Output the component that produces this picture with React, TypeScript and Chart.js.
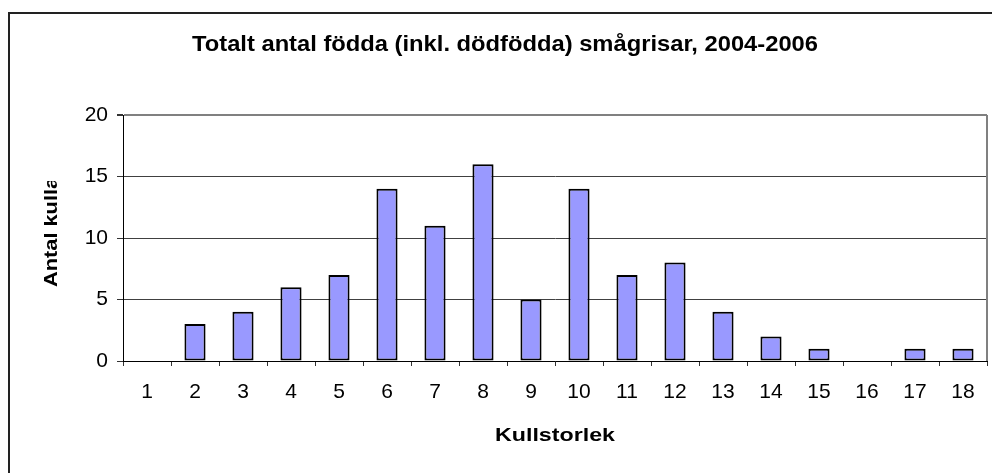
import React, { useEffect, useRef } from "react";
import { Chart, registerables } from "chart.js";

Chart.register(...registerables);

const CHART_TITLE = "Totalt antal födda (inkl. dödfödda) smågrisar, 2004-2006";
const X_TITLE = "Kullstorlek";
const Y_TITLE = "Antal kullar";
const categories = ["1", "2", "3", "4", "5", "6", "7", "8", "9", "10", "11", "12", "13", "14", "15", "16", "17", "18"];
const litterCounts = [0, 3, 4, 6, 7, 14, 11, 16, 5, 14, 7, 8, 4, 2, 1, 0, 1, 1];
const yTicks = [0, 5, 10, 15, 20];

const FONT = "'Liberation Sans', Arial, sans-serif";

function drawStretched(
  ctx: CanvasRenderingContext2D,
  text: string,
  x: number,
  y: number,
  font: string,
  targetWidth: number,
  align: CanvasTextAlign
) {
  ctx.save();
  ctx.font = font;
  const w = ctx.measureText(text).width;
  const s = targetWidth / w;
  ctx.translate(x, y);
  ctx.scale(s, 1);
  ctx.textAlign = align;
  ctx.textBaseline = "alphabetic";
  ctx.fillStyle = "#000";
  ctx.fillText(text, 0, 0);
  ctx.restore();
}

const decorPlugin = {
  id: "decor",
  afterDraw(chart: any) {
    const ctx: CanvasRenderingContext2D = chart.ctx;
    const { right, top, bottom, left } = chart.chartArea;
    ctx.save();
    // plot area right border
    ctx.strokeStyle = "#808080";
    ctx.lineWidth = 2;
    ctx.beginPath();
    ctx.moveTo(right, top);
    ctx.lineTo(right, bottom);
    ctx.stroke();
    // outer chart frame
    ctx.strokeStyle = "#222";
    ctx.lineWidth = 2;
    ctx.strokeRect(9, 13, 1200, 1000);
    ctx.restore();

    // main title
    drawStretched(ctx, CHART_TITLE, 505, 51, `bold 22px ${FONT}`, 626, "center");
    // x axis title
    drawStretched(ctx, X_TITLE, (left + right) / 2, 441, `bold 19px ${FONT}`, 120, "center");

    // y axis title (clipped as in the original)
    ctx.save();
    ctx.beginPath();
    ctx.rect(0, 181, 120, 300);
    ctx.clip();
    ctx.font = `bold 19px ${FONT}`;
    const part = ctx.measureText("Antal kull").width;
    const s = 98 / part;
    ctx.translate(57, 287);
    ctx.rotate(-Math.PI / 2);
    ctx.scale(s, 1);
    ctx.textAlign = "left";
    ctx.textBaseline = "alphabetic";
    ctx.fillStyle = "#000";
    ctx.fillText(Y_TITLE, 0, 0);
    ctx.restore();
  },
};

export default function App() {
  const ref = useRef<HTMLCanvasElement | null>(null);

  useEffect(() => {
    if (!ref.current) return;
    const chart = new Chart(ref.current, {
      type: "bar",
      data: {
        labels: categories,
        datasets: [
          {
            data: litterCounts,
            backgroundColor: "#9999FF",
            borderColor: "#000000",
            borderWidth: 2,
            borderSkipped: false,
            barPercentage: 0.44,
            categoryPercentage: 1,
          },
        ],
      },
      options: {
        responsive: false,
        animation: false,
        layout: { padding: { top: 115, right: 5, left: 0, bottom: 0 } },
        plugins: {
          legend: { display: false },
          title: { display: false },
          tooltip: { enabled: false },
        },
        scales: {
          x: {
            type: "category",
            offset: true,
            grid: {
              offset: true,
              drawOnChartArea: false,
              drawTicks: true,
              tickLength: 5,
              tickColor: "#333",
            },
            border: { color: "#000", width: 1 },
            ticks: {
              color: "#000",
              font: { family: FONT, size: 21 },
              padding: 14,
              maxRotation: 0,
              autoSkip: false,
            },
            afterFit: (scale: any) => {
              scale.height = 112;
            },
          },
          y: {
            min: 0,
            max: 20,
            afterBuildTicks: (scale: any) => {
              scale.ticks = yTicks.map((v) => ({ value: v }));
            },
            grid: {
              color: (c: any) => (c.tick && c.tick.value === 20 ? "#808080" : "#404040"),
              lineWidth: (c: any) => (c.tick && c.tick.value === 20 ? 2 : 1),
              drawTicks: true,
              tickLength: 6,
              tickColor: "#333",
            },
            border: { color: "#000", width: 1 },
            ticks: {
              color: "#000",
              font: { family: FONT, size: 21 },
              padding: 9,
            },
            afterFit: (scale: any) => {
              scale.width = 123;
            },
          },
        },
      },
      plugins: [decorPlugin],
    });
    return () => chart.destroy();
  }, []);

  return (
    <div style={{ position: "absolute", left: 0, top: 0, width: 992, height: 473, background: "#fff" }}>
      <canvas ref={ref} width={992} height={473} style={{ display: "block" }} />
    </div>
  );
}
